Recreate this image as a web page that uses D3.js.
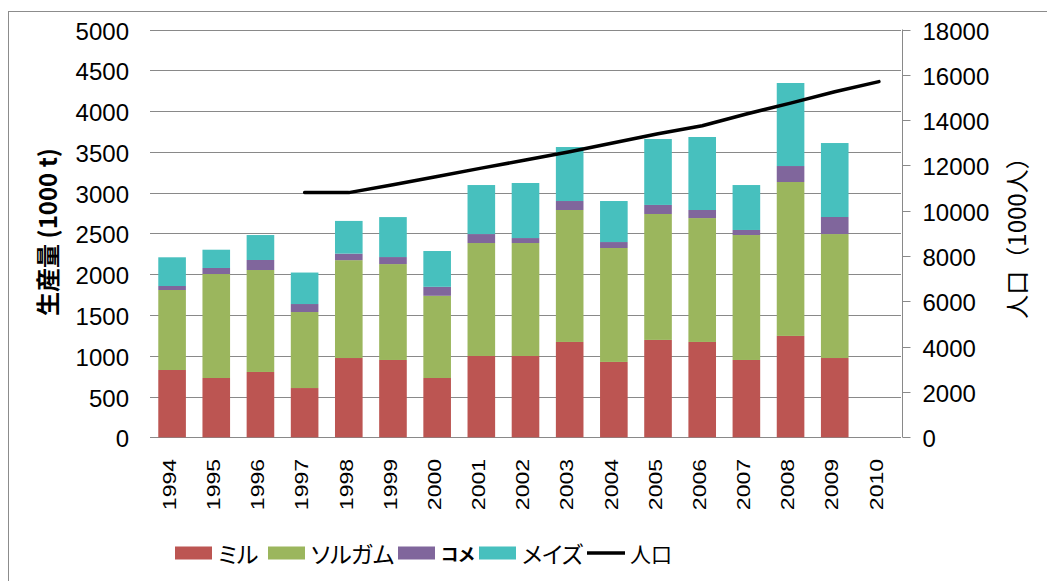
<!DOCTYPE html>
<meta charset="utf-8">
<script src="https://d3js.org/d3.v7.min.js"></script>
<style>
  body { margin: 0; background: #fff; }
  text { font-family: "Liberation Sans", Arial, sans-serif; fill: #000; }
  .jp { font-family: "Noto Sans CJK JP", sans-serif; }
  .kana { font-feature-settings: "palt"; }
</style>
<div id="chart"></div>

<script>
// data (1000 t, population in 1000 people)
const years = ["1994","1995","1996","1997","1998","1999","2000","2001","2002",
               "2003","2004","2005","2006","2007","2008","2009","2010"]
const millet  = [825, 727, 801, 604, 972, 948, 727, 997, 997, 1169, 924, 1194, 1169, 948, 1243, 972, 0]
const sorghum = [981, 1275, 1250, 932, 1200, 1176, 1008, 1385, 1385, 1618, 1397, 1544, 1519, 1532, 1887, 1520, 0]
const rice    = [49, 74, 123, 98, 80, 86, 110, 110, 61, 110, 73, 111, 99, 62, 196, 209, 0]
const maize   = [352, 224, 306, 386, 401, 490, 439, 601, 675, 662, 503, 808, 895, 551, 1018, 907, 0]
const population = [null, null, null, 10800, 10800, 11150, 11510, 11880, 12240,
                    12600, 13000, 13400, 13750, 14270, 14750, 15250, 15700]

const seriesNames = ["ミル", "ソルガム", "コメ", "メイズ"]
const seriesColors = ["#BC5552", "#9BB65D", "#80669C", "#47C0BE"]
const leftTicks = d3.range(0, 5001, 500)
const rightTicks = d3.range(0, 18001, 2000)

const W = 1047, H = 581
const plot = {left: 150, right: 901, top: 29.5, bottom: 437.3}

const svg = d3.select("#chart").append("svg")
    .attr("width", W)
    .attr("height", H)

// outer frame (only top/left visible in the picture)
svg.append("rect")
    .attr("x", 8.5).attr("y", 11.5)
    .attr("width", 1100).attr("height", 700)
    .attr("fill", "none")
    .attr("stroke", "#8c8c8c")

const x = d3.scaleBand()
    .domain(years)
    .range([plot.left, plot.right])
    .paddingInner(0.375)
    .paddingOuter(0.1875)

const y = d3.scaleLinear()
    .domain([0, 5000])
    .range([plot.bottom, plot.top])

const y2 = d3.scaleLinear()
    .domain([0, 18000])
    .range([plot.bottom, plot.top])

// gridlines
svg.append("g")
    .selectAll("line")
    .data(leftTicks)
    .join("line")
        .attr("x1", plot.left).attr("x2", plot.right)
        .attr("y1", d => Math.round(y(d)) + 0.5)
        .attr("y2", d => Math.round(y(d)) + 0.5)
        .attr("stroke", "#898989")

// left tick labels
svg.append("g")
    .selectAll("text")
    .data(leftTicks)
    .join("text")
        .attr("x", 129)
        .attr("y", d => y(d) + 1.5)
        .attr("text-anchor", "end")
        .attr("dominant-baseline", "central")
        .style("font-size", "24px")
        .text(d => d)

// stacked bars
const rows = years.map((yr, i) => ({year: yr, s0: millet[i], s1: sorghum[i], s2: rice[i], s3: maize[i]}))
const stack = d3.stack().keys(["s0", "s1", "s2", "s3"])(rows)

svg.append("g")
    .selectAll("g")
    .data(stack)
    .join("g")
        .attr("fill", (d, i) => seriesColors[i])
    .selectAll("rect")
    .data(d => d.filter(p => p[1] > p[0]))
    .join("rect")
        .attr("x", d => x(d.data.year))
        .attr("y", d => y(d[1]))
        .attr("width", x.bandwidth())
        .attr("height", d => y(d[0]) - y(d[1]))

// right axis
const right = svg.append("g")
    .attr("transform", `translate(${plot.right + 1.5},0)`)
right.append("line")
    .attr("y1", plot.top).attr("y2", plot.bottom)
    .attr("stroke", "#898989")
right.selectAll("line.tick")
    .data(rightTicks)
    .join("line")
        .attr("class", "tick")
        .attr("x1", 0).attr("x2", 8)
        .attr("y1", d => Math.round(y2(d)) + 0.5)
        .attr("y2", d => Math.round(y2(d)) + 0.5)
        .attr("stroke", "#898989")
right.selectAll("text")
    .data(rightTicks)
    .join("text")
        .attr("x", 20)
        .attr("y", d => y2(d) + 1.5)
        .attr("dominant-baseline", "central")
        .style("font-size", "24px")
        .text(d => d)

// x labels, rotated
svg.append("g")
    .selectAll("text")
    .data(years)
    .join("text")
        .attr("transform", d => `translate(${x(d) + x.bandwidth() / 2 - 3}, 459) rotate(-90) scale(1, 0.82)`)
        .attr("text-anchor", "end")
        .attr("dominant-baseline", "central")
        .style("font-size", "23px")
        .text(d => d)

// population line
const line = d3.line()
    .defined(d => d.v != null)
    .x(d => x(d.year) + x.bandwidth() / 2)
    .y(d => y2(d.v))
svg.append("path")
    .datum(years.map((yr, i) => ({year: yr, v: population[i]})))
    .attr("d", line)
    .attr("fill", "none")
    .attr("stroke", "#000")
    .attr("stroke-width", 3.5)
    .attr("stroke-linecap", "round")
    .attr("stroke-linejoin", "round")

// axis titles
svg.append("text")
    .attr("class", "jp")
    .attr("transform", "translate(46, 232) rotate(-90)")
    .attr("text-anchor", "middle")
    .attr("dominant-baseline", "central")
    .style("font-size", "24px")
    .style("font-weight", "bold")
    .text("生産量 (1000 t)")

svg.append("text")
    .attr("class", "jp")
    .attr("transform", "translate(1015, 232) rotate(-90)")
    .attr("text-anchor", "middle")
    .attr("dominant-baseline", "central")
    .style("font-size", "24px")
    .text("人口（1000人）")

// legend
const legendX = [175, 268, 398, 479, 587]
const legendY = 553
const legend = svg.append("g")
seriesNames.forEach((name, i) => {
    legend.append("rect")
        .attr("x", legendX[i]).attr("y", legendY - 6.5)
        .attr("width", 37).attr("height", 13)
        .attr("fill", seriesColors[i])
    legend.append("text")
        .attr("class", "jp kana")
        .attr("x", legendX[i] + 43).attr("y", legendY)
        .attr("dominant-baseline", "central")
        .style("font-size", name == "コメ" ? "18px" : "23px")
        .style("font-weight", name == "コメ" ? "bold" : "normal")
        .text(name)
})
legend.append("line")
    .attr("x1", legendX[4]).attr("x2", legendX[4] + 38)
    .attr("y1", legendY).attr("y2", legendY)
    .attr("stroke", "#000")
    .attr("stroke-width", 3.5)
legend.append("text")
    .attr("class", "jp kana")
    .attr("x", legendX[4] + 43).attr("y", legendY)
    .attr("dominant-baseline", "central")
    .style("font-size", "21px")
    .text("人口")
</script>
